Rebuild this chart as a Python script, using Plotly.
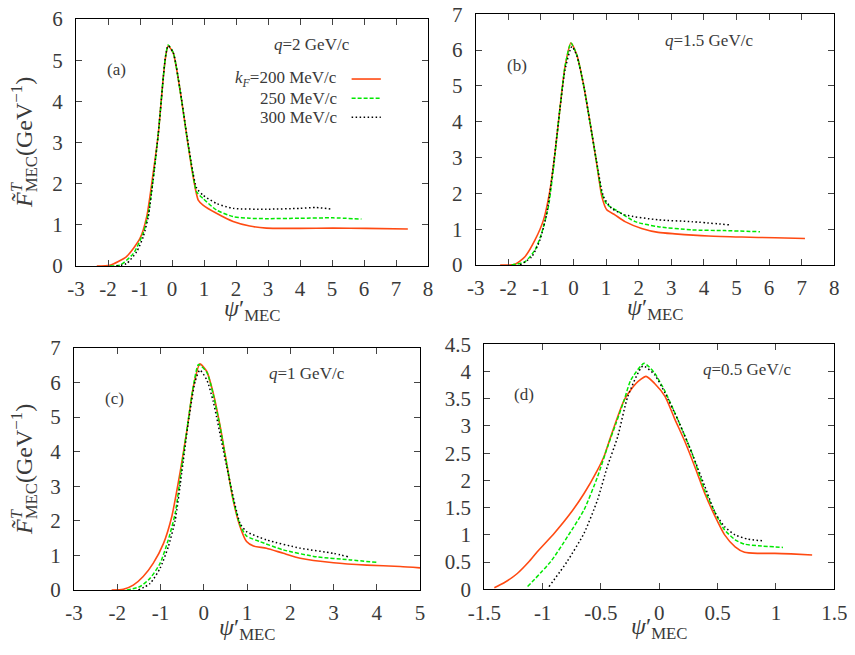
import plotly.graph_objects as go

# ---------------- data ----------------
# panel (a) q=2 GeV/c
a_red_x = [-2.35, -1.94, -1.42, -1.0, -0.79, -0.59, -0.43, -0.27, -0.2, -0.12, 0.04, 0.25, 0.45, 0.66, 0.82, 0.97, 1.39, 1.91, 2.43, 2.95, 3.99, 5.03, 6.07, 7.37]
a_red_y = [0, 0.02, 0.23, 0.67, 1.2, 2.25, 3.2, 4.6, 5.08, 5.35, 5.17, 4.28, 3.22, 2.17, 1.6, 1.48, 1.28, 1.08, 0.97, 0.92, 0.915, 0.92, 0.915, 0.9]
a_grn_x = [-1.94, -1.63, -1.21, -0.9, -0.74, -0.59, -0.43, -0.27, -0.2, -0.12, 0.04, 0.25, 0.45, 0.66, 0.77, 0.97, 1.39, 1.91, 2.43, 2.95, 3.99, 5.03, 5.92]
a_grn_y = [0, 0.02, 0.3, 0.8, 1.28, 2.1, 3.2, 4.6, 5.1, 5.37, 5.18, 4.28, 3.22, 2.2, 1.8, 1.64, 1.36, 1.2, 1.16, 1.15, 1.16, 1.17, 1.14]
a_blk_x = [-1.73, -1.42, -1.1, -0.9, -0.74, -0.59, -0.43, -0.27, -0.2, -0.12, 0.04, 0.25, 0.45, 0.66, 0.77, 0.97, 1.39, 1.91, 2.95, 3.99, 4.51, 4.98]
a_blk_y = [0, 0.06, 0.35, 0.71, 1.2, 2.1, 3.2, 4.6, 5.1, 5.35, 5.18, 4.3, 3.25, 2.25, 1.89, 1.72, 1.52, 1.4, 1.38, 1.4, 1.42, 1.38]

# panel (b) q=1.5 GeV/c
b_red_x = [-2.25, -1.79, -1.49, -1.18, -0.92, -0.72, -0.57, -0.41, -0.26, -0.08, 0.1, 0.3, 0.51, 0.71, 0.87, 1.02, 1.27, 1.58, 2.09, 2.6, 3.11, 4.14, 5.16, 6.18, 7.1]
b_red_y = [0, 0.02, 0.23, 0.7, 1.26, 2.1, 3.12, 4.42, 5.54, 6.2, 5.87, 5.07, 3.96, 2.84, 1.91, 1.54, 1.4, 1.21, 1.02, 0.91, 0.87, 0.81, 0.78, 0.76, 0.74]
b_grn_x = [-1.9, -1.49, -1.18, -0.98, -0.77, -0.62, -0.41, -0.26, -0.08, 0.1, 0.3, 0.51, 0.71, 0.87, 1.02, 1.38, 1.89, 2.6, 3.63, 4.65, 5.72]
b_grn_y = [0, 0.09, 0.42, 0.88, 1.63, 2.65, 4.42, 5.54, 6.2, 5.87, 5.07, 3.96, 2.86, 2.0, 1.7, 1.49, 1.21, 1.07, 0.98, 0.96, 0.93]
b_blk_x = [-1.64, -1.28, -1.03, -0.82, -0.62, -0.41, -0.26, -0.05, 0.1, 0.3, 0.51, 0.71, 0.92, 1.17, 1.58, 2.6, 3.63, 4.8]
b_blk_y = [0, 0.23, 0.7, 1.44, 2.75, 4.4, 5.45, 6.1, 5.85, 5.07, 3.96, 2.88, 1.91, 1.58, 1.4, 1.26, 1.21, 1.12]

# panel (c) q=1 GeV/c
c_red_x = [-2.13, -1.86, -1.63, -1.4, -1.17, -0.93, -0.74, -0.55, -0.4, -0.24, -0.09, 0.07, 0.22, 0.38, 0.53, 0.68, 0.84, 0.99, 1.15, 1.45, 1.84, 2.23, 3.0, 3.77, 4.54, 5.0]
c_red_y = [0, 0.02, 0.14, 0.39, 0.77, 1.35, 2.12, 3.38, 4.53, 5.88, 6.54, 6.32, 5.69, 4.73, 3.66, 2.6, 1.83, 1.4, 1.27, 1.21, 1.06, 0.92, 0.79, 0.72, 0.68, 0.64]
c_grn_x = [-1.78, -1.47, -1.24, -1.01, -0.82, -0.66, -0.51, -0.36, -0.24, -0.12, 0.07, 0.22, 0.38, 0.53, 0.68, 0.84, 0.99, 1.3, 1.84, 2.61, 3.39, 4.0]
c_grn_y = [0, 0.1, 0.34, 0.77, 1.45, 2.22, 3.57, 4.9, 5.9, 6.52, 6.3, 5.65, 4.7, 3.66, 2.62, 1.88, 1.56, 1.4, 1.16, 0.96, 0.87, 0.8]
c_blk_x = [-1.51, -1.24, -1.01, -0.82, -0.66, -0.51, -0.36, -0.2, -0.09, 0.07, 0.22, 0.53, 0.84, 0.99, 1.45, 2.23, 3.0, 3.34]
c_blk_y = [0, 0.19, 0.63, 1.25, 2.02, 3.38, 4.82, 6.03, 6.36, 6.08, 5.45, 3.57, 1.93, 1.69, 1.45, 1.21, 1.06, 0.96]

# panel (d) q=0.5 GeV/c
d_red_x = [-1.414, -1.33, -1.217, -1.12, -1.046, -0.9, -0.76, -0.645, -0.53, -0.474, -0.417, -0.3, -0.2, -0.114, -0.04, 0.05, 0.13, 0.22, 0.31, 0.39, 0.48, 0.56, 0.65, 0.73, 0.85, 0.99, 1.13, 1.31]
d_red_y = [0.03, 0.12, 0.29, 0.5, 0.69, 1.03, 1.4, 1.76, 2.19, 2.44, 2.8, 3.48, 3.78, 3.91, 3.78, 3.54, 3.14, 2.71, 2.22, 1.76, 1.33, 1.0, 0.78, 0.68, 0.66, 0.66, 0.65, 0.63]
d_grn_x = [-1.129, -0.93, -0.786, -0.645, -0.529, -0.443, -0.371, -0.3, -0.245, -0.13, -0.04, 0.05, 0.16, 0.28, 0.39, 0.48, 0.56, 0.65, 0.73, 0.85, 1.06]
d_grn_y = [0.05, 0.51, 0.97, 1.46, 2.07, 2.62, 3.05, 3.48, 3.84, 4.15, 3.97, 3.63, 3.11, 2.5, 1.82, 1.4, 1.09, 0.91, 0.83, 0.8, 0.77]
d_blk_x = [-0.945, -0.79, -0.645, -0.53, -0.446, -0.357, -0.27, -0.14, -0.04, 0.05, 0.16, 0.28, 0.39, 0.48, 0.56, 0.65, 0.76, 0.89]
d_blk_y = [0.05, 0.51, 1.03, 1.64, 2.25, 2.8, 3.54, 4.1, 3.94, 3.6, 3.11, 2.5, 1.89, 1.4, 1.15, 1.0, 0.92, 0.89]

panel_labels = ["(a)", "(b)", "(c)", "(d)"]
q_labels = ["<i>q</i>=2 GeV/c", "<i>q</i>=1.5 GeV/c", "<i>q</i>=1 GeV/c", "<i>q</i>=0.5 GeV/c"]
legend_labels = ["<i>k<sub>F</sub></i>=200 MeV/c", "250 MeV/c", "300 MeV/c"]

x_tickvals = [[-3, -2, -1, 0, 1, 2, 3, 4, 5, 6, 7, 8]] * 2 + [[-3, -2, -1, 0, 1, 2, 3, 4, 5],
              [-1.5, -1, -0.5, 0, 0.5, 1, 1.5]]
x_ticktext = [["-3", "-2", "-1", "0", "1", "2", "3", "4", "5", "6", "7", "8"]] * 2 + \
             [["-3", "-2", "-1", "0", "1", "2", "3", "4", "5"],
              ["-1.5", "-1", "-0.5", "0", "0.5", "1", "1.5"]]
y_tickvals = [[0, 1, 2, 3, 4, 5, 6], [0, 1, 2, 3, 4, 5, 6, 7], [0, 1, 2, 3, 4, 5, 6, 7],
              [0, 0.5, 1, 1.5, 2, 2.5, 3, 3.5, 4, 4.5]]
y_ticktext = [["0", "1", "2", "3", "4", "5", "6"], ["0", "1", "2", "3", "4", "5", "6", "7"],
              ["0", "1", "2", "3", "4", "5", "6", "7"],
              ["0", "0.5", "1", "1.5", "2", "2.5", "3", "3.5", "4", "4.5"]]
x_ranges = [[-3, 8], [-3, 8], [-3, 5], [-1.5, 1.5]]
y_ranges = [[0, 6], [0, 7], [0, 7], [0, 4.5]]

# ---------------- style ----------------
OFF = 8                      # page body margin
W, H = 855 - 2 * OFF, 655 - 2 * OFF
FONT = "Liberation Serif"
TXT = "#3a3a3a"
RED = "#ff4a12"
GREEN = "#00e800"
BLACK = "#000000"


def px(p):
    return (p - OFF) / W


def py(p):
    return 1 - (p - OFF) / H


# plot boxes in screen pixels (left, right, top, bottom)
boxes = [(76, 428, 19, 266), (475.7, 834.3, 14.3, 265), (74, 420, 348, 590), (484.3, 834.3, 344.3, 589.3)]
title_gap = [44, 44, 39, 39]

fig = go.Figure()

series = [
    [(a_red_x, a_red_y), (a_grn_x, a_grn_y), (a_blk_x, a_blk_y)],
    [(b_red_x, b_red_y), (b_grn_x, b_grn_y), (b_blk_x, b_blk_y)],
    [(c_red_x, c_red_y), (c_grn_x, c_grn_y), (c_blk_x, c_blk_y)],
    [(d_red_x, d_red_y), (d_grn_x, d_grn_y), (d_blk_x, d_blk_y)],
]
styles = [dict(color=RED, width=1.6, dash="solid"),
          dict(color=GREEN, width=1.5, dash="4px,2px"),
          dict(color=BLACK, width=1.5, dash="1.5px,2.5px")]

layout = dict(template="none", width=W, height=H, margin=dict(l=0, r=0, t=0, b=0, autoexpand=False),
              paper_bgcolor="white", plot_bgcolor="white", showlegend=False,
              font=dict(family=FONT, color=TXT))
annotations = []
shapes = []


def ann(**kw):
    d = dict(showarrow=False, xanchor="center", yanchor="middle")
    d.update(kw)
    annotations.append(d)


for i in range(4):
    l, r, t, b = boxes[i]
    xa = "xaxis" if i == 0 else f"xaxis{i+1}"
    ya = "yaxis" if i == 0 else f"yaxis{i+1}"
    xr = "x" if i == 0 else f"x{i+1}"
    yr = "y" if i == 0 else f"y{i+1}"
    for (sx, sy), st in zip(series[i], styles):
        fig.add_trace(go.Scatter(x=sx, y=sy, mode="lines", xaxis=xr, yaxis=yr,
                                 line=dict(shape="spline", smoothing=0.6, **st),
                                 hoverinfo="skip"))
    common = dict(showgrid=False, zeroline=False, showline=True, linecolor="black", linewidth=1,
                  mirror="ticks", ticks="inside", ticklen=6, tickwidth=1, tickcolor="#444444",
                  automargin=False, tickmode="array", ticklabeloverflow="allow",
                  tickfont=dict(family=FONT, size=21, color=TXT))
    layout[xa] = dict(domain=[px(l), px(r)], range=x_ranges[i], tickvals=x_tickvals[i],
                      ticktext=x_ticktext[i], anchor=yr, ticklabelstandoff=4, **common)
    layout[ya] = dict(domain=[py(b), py(t)], range=y_ranges[i], tickvals=y_tickvals[i],
                      ticktext=y_ticktext[i], anchor=xr, ticklabelstandoff=8, **common)

    xd = f"{xr} domain"
    yd = f"{yr} domain"
    ann(text=panel_labels[i], xref=xd, yref=yd, x=[0.116, 0.116, 0.118, 0.114][i],
        y=[0.794, 0.795, 0.792, 0.797][i], font=dict(family=FONT, size=17, color=TXT))
    ann(text=q_labels[i], xref=xd, yref=yd, x=[0.67, 0.651, 0.672, 0.751][i],
        y=[0.895, 0.895, 0.895, 0.898][i], font=dict(family=FONT, size=17, color=TXT))
    ann(text="<i>ψ</i>′<sub>MEC</sub>", xref=xd, yref="paper", x=0.5, y=py(b + title_gap[i]),
        font=dict(family=FONT, size=24, color=TXT))

# y titles for left panels
for tc in (143, 470):
    ann(text="<i>F̃</i><sub>MEC</sub>(GeV<sup>−1</sup>)", xref="paper", yref="paper",
        x=px(24), y=py(tc), textangle=-90, font=dict(family=FONT, size=24, color=TXT))
    ann(text="<i>T</i>", xref="paper", yref="paper",
        x=px(16), y=py(tc + 44), textangle=-90, font=dict(family=FONT, size=16, color=TXT))

# legend in panel (a)
leg_y = [0.757, 0.679, 0.602]
for k in range(3):
    ann(text=legend_labels[k], xref="x domain", yref="y domain", x=0.747, y=leg_y[k],
        xanchor="right", font=dict(family=FONT, size=17, color=TXT))
    shapes.append(dict(type="line", xref="x domain", yref="y domain", x0=0.783, x1=0.866,
                       y0=leg_y[k], y1=leg_y[k], line=styles[k]))

layout["annotations"] = annotations
layout["shapes"] = shapes
fig.update_layout(**layout)
fig.write_html("out.html")
